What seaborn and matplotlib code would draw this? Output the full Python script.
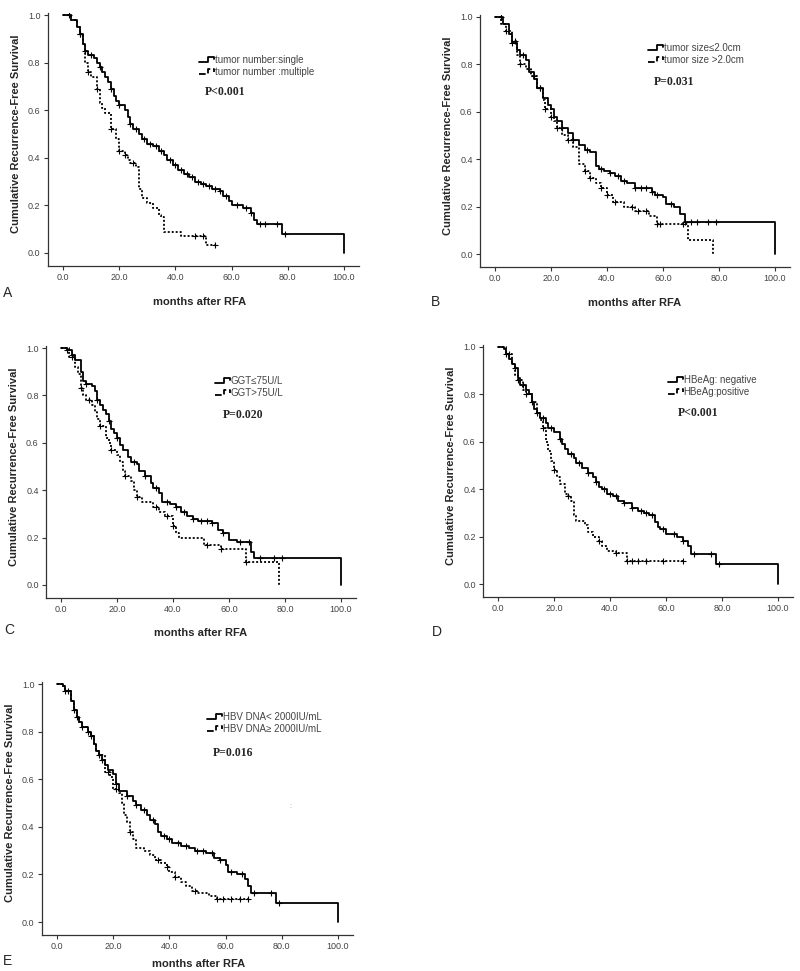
import numpy as np
import matplotlib
matplotlib.use("Agg")
import matplotlib.pyplot as plt
import seaborn as sns
from matplotlib.legend_handler import HandlerBase
from matplotlib.lines import Line2D

# ---- data: step points (time, survival) and censor times ----
# A: tumor number
a1_t = [0, 3, 5, 6, 7, 8, 9, 11, 12, 13, 14, 15, 16, 17, 18, 19, 20, 22, 23, 24, 25, 27, 28, 30, 32, 34,
        36, 37, 39, 41, 43, 45, 47, 49, 51, 53, 56, 57, 59, 60, 64, 67, 68, 69, 78, 100]
a1_s = [1.0, 0.98, 0.95, 0.92, 0.88, 0.85, 0.83, 0.82, 0.80, 0.78, 0.76, 0.74, 0.72, 0.69, 0.66, 0.64, 0.62,
        0.60, 0.57, 0.54, 0.52, 0.50, 0.48, 0.46, 0.45, 0.43, 0.41, 0.39, 0.37, 0.35, 0.33, 0.32, 0.30, 0.29,
        0.28, 0.27, 0.26, 0.24, 0.22, 0.20, 0.19, 0.17, 0.14, 0.12, 0.08, 0.0]
a1_c = [2, 6, 8, 10, 13, 17, 20, 24, 26, 29, 31, 33, 35, 38, 40, 42, 44, 46, 48, 50, 52, 54, 56, 58, 62,
        65, 67, 70, 72, 76, 79]
a2_t = [0, 3, 5, 6, 7, 8, 9, 10, 12, 13, 14, 15, 17, 19, 20, 22, 23, 24, 26, 27, 28, 30, 32, 34, 35, 36,
        42, 51, 54]
a2_s = [1.0, 0.98, 0.95, 0.92, 0.88, 0.80, 0.76, 0.74, 0.69, 0.63, 0.61, 0.59, 0.52, 0.48, 0.43, 0.41, 0.39,
        0.38, 0.36, 0.27, 0.23, 0.21, 0.19, 0.16, 0.15, 0.09, 0.07, 0.035, 0.035]
a2_c = [6, 9, 12, 17, 20, 22, 25, 47, 50, 54]

# B: tumor size
b1_t = [0, 3, 5, 6, 8, 9, 11, 12, 14, 15, 17, 19, 20, 21, 22, 24, 26, 28, 30, 32, 34, 36, 37, 39, 41, 43,
        45, 47, 50, 56, 57, 60, 61, 64, 66, 68, 100]
b1_s = [1.0, 0.97, 0.93, 0.89, 0.86, 0.84, 0.82, 0.77, 0.74, 0.70, 0.66, 0.63, 0.61, 0.58, 0.56, 0.53,
        0.51, 0.48, 0.46, 0.44, 0.43, 0.37, 0.36, 0.35, 0.34, 0.33, 0.31, 0.30, 0.28, 0.26, 0.25, 0.24,
        0.21, 0.20, 0.17, 0.135, 0.0]
b1_c = [2, 6, 10, 16, 24, 28, 33, 38, 41, 44, 46, 50, 52, 54, 56, 58, 63, 68, 70, 72, 76, 79]
b2_t = [0, 2, 4, 6, 8, 9, 11, 13, 15, 17, 18, 20, 21, 22, 24, 26, 28, 30, 32, 34, 36, 38, 40, 42, 46,
        50, 55, 58, 69, 78]
b2_s = [1.0, 0.97, 0.94, 0.90, 0.84, 0.80, 0.78, 0.75, 0.70, 0.65, 0.61, 0.58, 0.56, 0.53, 0.50, 0.48,
        0.45, 0.38, 0.35, 0.32, 0.30, 0.28, 0.25, 0.22, 0.20, 0.18, 0.16, 0.125, 0.06, 0.0]
b2_c = [4, 7, 9, 14, 16, 18, 20, 22, 26, 32, 34, 38, 40, 43, 49, 51, 54, 58, 59, 67]

# C: GGT
c1_t = [0, 2, 4, 5, 7, 8, 9, 11, 12, 13, 14, 15, 16, 17, 18, 19, 20, 21, 22, 24, 25, 27, 28, 30, 32, 33,
        35, 36, 39, 41, 43, 45, 47, 49, 54, 56, 58, 60, 63, 68, 69, 100]
c1_s = [1.0, 0.99, 0.97, 0.95, 0.90, 0.86, 0.85, 0.84, 0.82, 0.78, 0.76, 0.74, 0.72, 0.69, 0.66, 0.64,
        0.62, 0.59, 0.57, 0.54, 0.52, 0.51, 0.48, 0.46, 0.43, 0.41, 0.39, 0.35, 0.34, 0.33, 0.31, 0.29,
        0.28, 0.27, 0.26, 0.23, 0.22, 0.19, 0.18, 0.14, 0.115, 0.0]
c1_c = [2, 4, 9, 13, 17, 20, 26, 30, 34, 38, 41, 44, 47, 50, 52, 54, 58, 64, 67, 71, 76, 79]
c2_t = [0, 3, 5, 6, 7, 8, 9, 11, 12, 13, 14, 16, 17, 18, 20, 21, 22, 23, 25, 26, 27, 29, 33, 35, 37, 40,
        41, 42, 51, 57, 66, 78]
c2_s = [1.0, 0.96, 0.92, 0.89, 0.83, 0.80, 0.78, 0.76, 0.73, 0.70, 0.67, 0.62, 0.60, 0.57, 0.55, 0.52,
        0.48, 0.46, 0.44, 0.40, 0.37, 0.35, 0.33, 0.31, 0.29, 0.25, 0.22, 0.20, 0.17, 0.15, 0.095, 0.0]
c2_c = [4, 7, 10, 14, 18, 23, 27, 34, 38, 40, 52, 57, 66]

# D: HBeAg
d1_t = [0, 2, 3, 4, 5, 6, 7, 8, 10, 11, 12, 13, 14, 15, 17, 18, 20, 22, 23, 24, 25, 27, 28, 30, 32, 34,
        35, 36, 37, 39, 41, 43, 45, 48, 50, 52, 54, 56, 57, 58, 60, 64, 66, 68, 69, 78, 100]
d1_s = [1.0, 0.99, 0.97, 0.95, 0.93, 0.91, 0.87, 0.84, 0.82, 0.80, 0.77, 0.74, 0.72, 0.70, 0.68, 0.66,
        0.64, 0.61, 0.59, 0.57, 0.55, 0.53, 0.51, 0.49, 0.47, 0.45, 0.43, 0.41, 0.40, 0.38, 0.37, 0.35,
        0.34, 0.32, 0.31, 0.30, 0.29, 0.26, 0.24, 0.23, 0.21, 0.20, 0.18, 0.16, 0.125, 0.085, 0.0]
d1_c = [3, 6, 9, 12, 14, 16, 19, 22, 26, 29, 32, 35, 38, 40, 42, 45, 48, 51, 53, 55, 59, 63, 66, 70, 76, 79]
d2_t = [0, 3, 5, 6, 7, 9, 10, 12, 14, 15, 16, 17, 18, 19, 20, 21, 22, 24, 25, 26, 27, 28, 31, 32, 34, 36,
        37, 39, 42, 46, 66]
d2_s = [1.0, 0.97, 0.93, 0.88, 0.86, 0.82, 0.80, 0.77, 0.72, 0.69, 0.66, 0.60, 0.56, 0.52, 0.48, 0.45,
        0.42, 0.38, 0.37, 0.35, 0.29, 0.265, 0.25, 0.22, 0.20, 0.18, 0.16, 0.14, 0.13, 0.095, 0.095]
d2_c = [4, 7, 10, 16, 20, 25, 36, 42, 46, 48, 50, 53, 59, 66]

# E: HBV DNA
e1_t = [0, 2, 3, 5, 6, 7, 8, 9, 11, 12, 13, 14, 15, 16, 17, 18, 20, 21, 22, 25, 27, 28, 30, 32, 33, 35,
        36, 37, 39, 41, 44, 47, 49, 53, 56, 58, 60, 61, 64, 67, 68, 69, 78, 100]
e1_s = [1.0, 0.99, 0.97, 0.93, 0.89, 0.86, 0.84, 0.82, 0.80, 0.78, 0.75, 0.72, 0.70, 0.68, 0.66, 0.64,
        0.62, 0.58, 0.55, 0.53, 0.51, 0.49, 0.47, 0.45, 0.43, 0.41, 0.38, 0.36, 0.35, 0.33, 0.32, 0.31,
        0.30, 0.29, 0.27, 0.26, 0.24, 0.21, 0.20, 0.18, 0.15, 0.12, 0.08, 0.0]
e1_c = [3, 6, 9, 12, 16, 21, 25, 28, 31, 34, 38, 40, 43, 46, 50, 52, 55, 58, 62, 66, 70, 76, 79]
e2_t = [0, 2, 3, 5, 6, 7, 8, 9, 11, 12, 13, 14, 15, 17, 19, 20, 22, 23, 24, 25, 26, 27, 28, 31, 33, 35,
        37, 39, 40, 42, 44, 46, 48, 50, 54, 57, 68]
e2_s = [1.0, 0.99, 0.97, 0.93, 0.89, 0.86, 0.84, 0.82, 0.80, 0.78, 0.75, 0.72, 0.70, 0.63, 0.61, 0.56,
        0.54, 0.50, 0.45, 0.42, 0.38, 0.35, 0.31, 0.30, 0.28, 0.26, 0.25, 0.23, 0.21, 0.19, 0.17, 0.15,
        0.13, 0.12, 0.11, 0.095, 0.095]
e2_c = [4, 7, 11, 15, 18, 21, 26, 36, 39, 42, 49, 57, 59, 62, 65, 68]

labels_a = ["tumor number:single", "tumor number :multiple"]
labels_b = ["tumor size\u22642.0cm", "tumor size >2.0cm"]
labels_c = ["GGT\u226475U/L", "GGT>75U/L"]
labels_d = ["HBeAg: negative", "HBeAg:positive"]
labels_e = ["HBV DNA< 2000IU/mL", "HBV DNA\u2265 2000IU/mL"]
p_values = ["P<0.001", "P=0.031", "P=0.020", "P<0.001", "P=0.016"]
letters = ["A", "B", "C", "D", "E"]

sns.set_style("ticks")
plt.rcParams["font.family"] = ["Liberation Sans", "DejaVu Sans"]

W, H = 800, 971
fig = plt.figure(figsize=(8, 9.71), dpi=100)


def fx(x):
    return x / W


def fy(y):
    return 1 - y / H


class StepHandler(HandlerBase):
    def create_artists(self, legend, orig_handle, xdescent, ydescent, width, height, fontsize, trans):
        xs = np.array([0, 0.6, 0.6, 1.0, 1.0]) * width - xdescent
        ys = np.array([0.2, 0.2, 0.9, 0.9, 0.55]) * height - ydescent
        ln = Line2D(xs, ys, color="black", lw=orig_handle.get_linewidth(),
                    linestyle=orig_handle.get_linestyle())
        ln.set_transform(trans)
        return [ln]


DOT = (0, (1.1, 1.1))


def draw_curve(ax, t, s, cens, dotted):
    ls = DOT if dotted else "-"
    sns.lineplot(x=t, y=s, ax=ax, drawstyle="steps-post", color="black",
                 linewidth=1.3, linestyle=ls, estimator=None, sort=False)
    t_arr = np.array(t)
    s_arr = np.array(s)
    idx = np.searchsorted(t_arr, cens, side="right") - 1
    sns.scatterplot(x=cens, y=s_arr[idx], ax=ax, marker="+", color="black",
                    s=20, linewidth=0.8)


# pixel layout of each panel: x of 0, x of 100, y of 1.0, y of 0.0
panels = [
    dict(x0=63, x100=344, y1=15, y0=253, leg=(199, 55), p=(205, 92), xl=(200, 297), let=(3, 293),
         curves=[(a1_t, a1_s, a1_c), (a2_t, a2_s, a2_c)], labels=labels_a),
    dict(x0=495, x100=775, y1=17, y0=254, leg=(648, 43), p=(654, 82), xl=(635, 298), let=(431, 302),
         curves=[(b1_t, b1_s, b1_c), (b2_t, b2_s, b2_c)], labels=labels_b),
    dict(x0=61, x100=341, y1=348, y0=585, leg=(215, 376), p=(223, 415), xl=(201, 628), let=(4, 630),
         curves=[(c1_t, c1_s, c1_c), (c2_t, c2_s, c2_c)], labels=labels_c),
    dict(x0=498, x100=778, y1=347, y0=584, leg=(668, 375), p=(678, 413), xl=None, let=(432, 632),
         curves=[(d1_t, d1_s, d1_c), (d2_t, d2_s, d2_c)], labels=labels_d),
    dict(x0=57, x100=338, y1=684, y0=922, leg=(207, 712), p=(213, 753), xl=(199, 959), let=(3, 961),
         curves=[(e1_t, e1_s, e1_c), (e2_t, e2_s, e2_c)], labels=labels_e),
]

XMIN, XMAX = -5.5, 105.3
YMIN, YMAX = -0.055, 1.01

for i, p in enumerate(panels):
    sx = (p["x100"] - p["x0"]) / 100
    sy = (p["y0"] - p["y1"])
    left = p["x0"] + XMIN * sx
    right = p["x0"] + XMAX * sx
    top = p["y0"] - YMAX * sy
    bottom = p["y0"] - YMIN * sy
    ax = fig.add_axes([fx(left), fy(bottom), (right - left) / W, (bottom - top) / H])

    for k, (t, s, c) in enumerate(p["curves"]):
        draw_curve(ax, t, s, c, dotted=(k == 1))

    ax.set_xlim(XMIN, XMAX)
    ax.set_ylim(YMIN, YMAX)
    ax.set_xticks([0, 20, 40, 60, 80, 100])
    ax.set_xticklabels(["0.0", "20.0", "40.0", "60.0", "80.0", "100.0"])
    ax.set_yticks([0, 0.2, 0.4, 0.6, 0.8, 1.0])
    ax.set_yticklabels(["0.0", "0.2", "0.4", "0.6", "0.8", "1.0"])
    ax.tick_params(labelsize=6.5, labelcolor="#444444", length=3, width=0.8, color="#333333", pad=2)
    for sp in ["top", "right"]:
        ax.spines[sp].set_visible(False)
    for sp in ["left", "bottom"]:
        ax.spines[sp].set_color("#333333")
        ax.spines[sp].set_linewidth(0.9)

    ax.set_ylabel("Cumulative Recurrence-Free Survival", fontsize=8, fontweight="bold")
    ax.yaxis.set_label_coords(-27 / (right - left), (p["y0"] - (p["y0"] + p["y1"]) / 2 + (bottom - p["y0"])) / (bottom - top))
    if p["xl"] is not None:
        ax.set_xlabel("months after RFA", fontsize=8, fontweight="bold")
        ax.xaxis.set_label_coords(((p["xl"][0]) - left) / (right - left), -(p["xl"][1] - bottom) / (bottom - top))
    else:
        ax.set_xlabel("")

    handles = [Line2D([], [], color="black", lw=1.3, linestyle="-"),
               Line2D([], [], color="black", lw=1.3, linestyle=DOT)]
    leg = ax.legend(handles, p["labels"], handler_map={Line2D: StepHandler()},
                    loc="upper left", bbox_to_anchor=(fx(p["leg"][0]), fy(p["leg"][1])),
                    bbox_transform=fig.transFigure, frameon=False, fontsize=7,
                    handlelength=1.5, handletextpad=0.1, labelspacing=0.25,
                    borderpad=0, borderaxespad=0)
    for txt in leg.get_texts():
        txt.set_color("#444444")

    fig.text(fx(p["p"][0]), fy(p["p"][1]), p_values[i], family=["Liberation Serif", "DejaVu Serif"],
             fontweight="bold", fontsize=8.5, va="center", ha="left")
    fig.text(fx(p["let"][0]), fy(p["let"][1]), letters[i], fontsize=10, va="center", ha="left")

# small stray mark in panel E
fig.text(fx(290), fy(807), ":", fontsize=5, color="#999999", ha="center", va="center")

fig.savefig("out.png", dpi=100, facecolor="white")
